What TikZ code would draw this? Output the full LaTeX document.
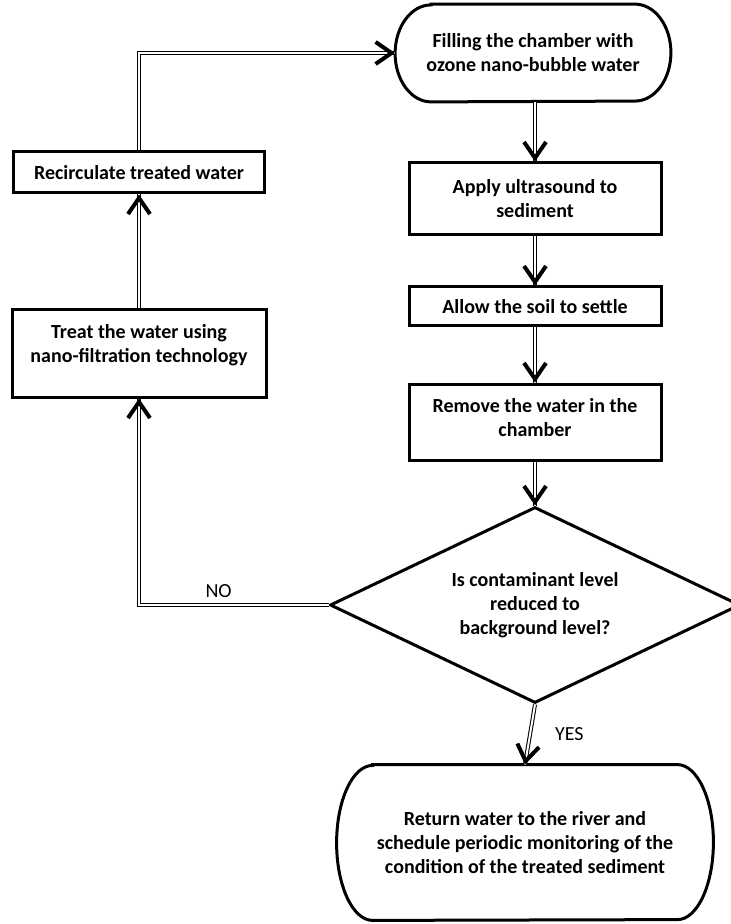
\documentclass[tikz,border=0pt]{standalone}
\usepackage{fontspec}
\setmainfont{Carlito}
\usetikzlibrary{shapes.geometric,arrows.meta,calc}

\begin{document}
\begin{tikzpicture}
[x=0.5pt,y=-0.5pt,
box/.style={draw,rectangle,line width=1.5pt,align=center,inner sep=0pt,font=\bfseries\fontsize{10}{12}\selectfont},
decision/.style={draw,diamond,aspect=2.1,line width=1.5pt,align=center,inner sep=0pt,font=\bfseries\fontsize{10}{12}\selectfont},
terminal/.style={rectangle,align=center,inner sep=0pt,font=\bfseries\fontsize{10}{12}\selectfont},
flow/.style={double,double distance=1pt,line width=0.5pt},
tip/.style={line width=2pt,-{Straight Barb[length=8pt,width=11pt]}},
answer/.style={font=\fontsize{10}{12}\selectfont},]

\useasboundingbox (0,0) rectangle (731,924);

%Start and end
\node (fill) at (533,53)[terminal,minimum width=137.5pt,minimum height=48.5pt] {Filling the chamber with\\ozone nano-bubble water};
\node (return) at (525,842.5)[terminal,minimum width=188pt,minimum height=77.5pt] {Return water to the river and\\schedule periodic monitoring of the\\condition of the treated sediment};

%Outlines of start and end
\draw[line width=1.5pt] ([xshift=18pt]fill.north west) -- ([xshift=-18pt]fill.north east)
  arc[start angle=90,end angle=-90,x radius=18pt,y radius=24.25pt] -- ([xshift=18pt]fill.south west)
  arc[start angle=270,end angle=90,x radius=18pt,y radius=24.25pt] -- cycle;
\draw[line width=1.5pt] ([xshift=18pt]return.north west) -- ([xshift=-18pt]return.north east)
  arc[start angle=90,end angle=-90,x radius=18pt,y radius=38.75pt] -- ([xshift=18pt]return.south west)
  arc[start angle=270,end angle=90,x radius=18pt,y radius=38.75pt] -- cycle;

%Steps
\node (apply) at (535,199)[box,minimum width=126pt,minimum height=36pt] {Apply ultrasound to\\sediment};
\node (settle) at (535,306.5)[box,minimum width=126pt,minimum height=19.5pt] {Allow the soil to settle};
\node (remove) at (535,422)[box,minimum width=126pt,minimum height=38pt,text depth=5pt] {Remove the water in the\\chamber};
\node (check) at (535,605)[decision,minimum width=205pt,minimum height=98pt] {Is contaminant level\\reduced to\\background level?};
\node (treat) at (139,353.5)[box,minimum width=127pt,minimum height=43.5pt,text depth=10.5pt] {Treat the water using\\nano-filtration technology};
\node (recirc) at (139,172.5)[box,minimum width=125.5pt,minimum height=20.5pt] {Recirculate treated water};

%Main line
\draw[flow] (fill.south -| apply.north) -- (apply.north);
\draw[flow] (apply) -- (settle);
\draw[flow] (settle) -- (remove);
\draw[flow] (remove.south) -- (check.north);
\draw[flow] (check.south) -- node[answer,right=9pt] {YES} (return.north);

%Loop back
\draw[flow] (check.west) -| node[answer,pos=0.29,above] {NO} (treat.south);
\draw[flow] (treat) -- (recirc);
\draw[flow] (recirc.north) |- (fill.west);

%Arrow heads
\draw[tip] ([yshift=3pt]apply.north) -- (apply.north);
\draw[tip] ([yshift=3pt]settle.north) -- (settle.north);
\draw[tip] ([yshift=3pt]remove.north) -- (remove.north);
\draw[tip] ([yshift=3pt]check.north) -- (check.north);
\draw[tip] ($(return.north)!3pt!(check.south)$) -- (return.north);
\draw[tip] ([yshift=-3pt]treat.south) -- (treat.south);
\draw[tip] ([yshift=-3pt]recirc.south) -- (recirc.south);
\draw[tip] ([xshift=-3pt]fill.west) -- (fill.west);

\end{tikzpicture}
\end{document}
